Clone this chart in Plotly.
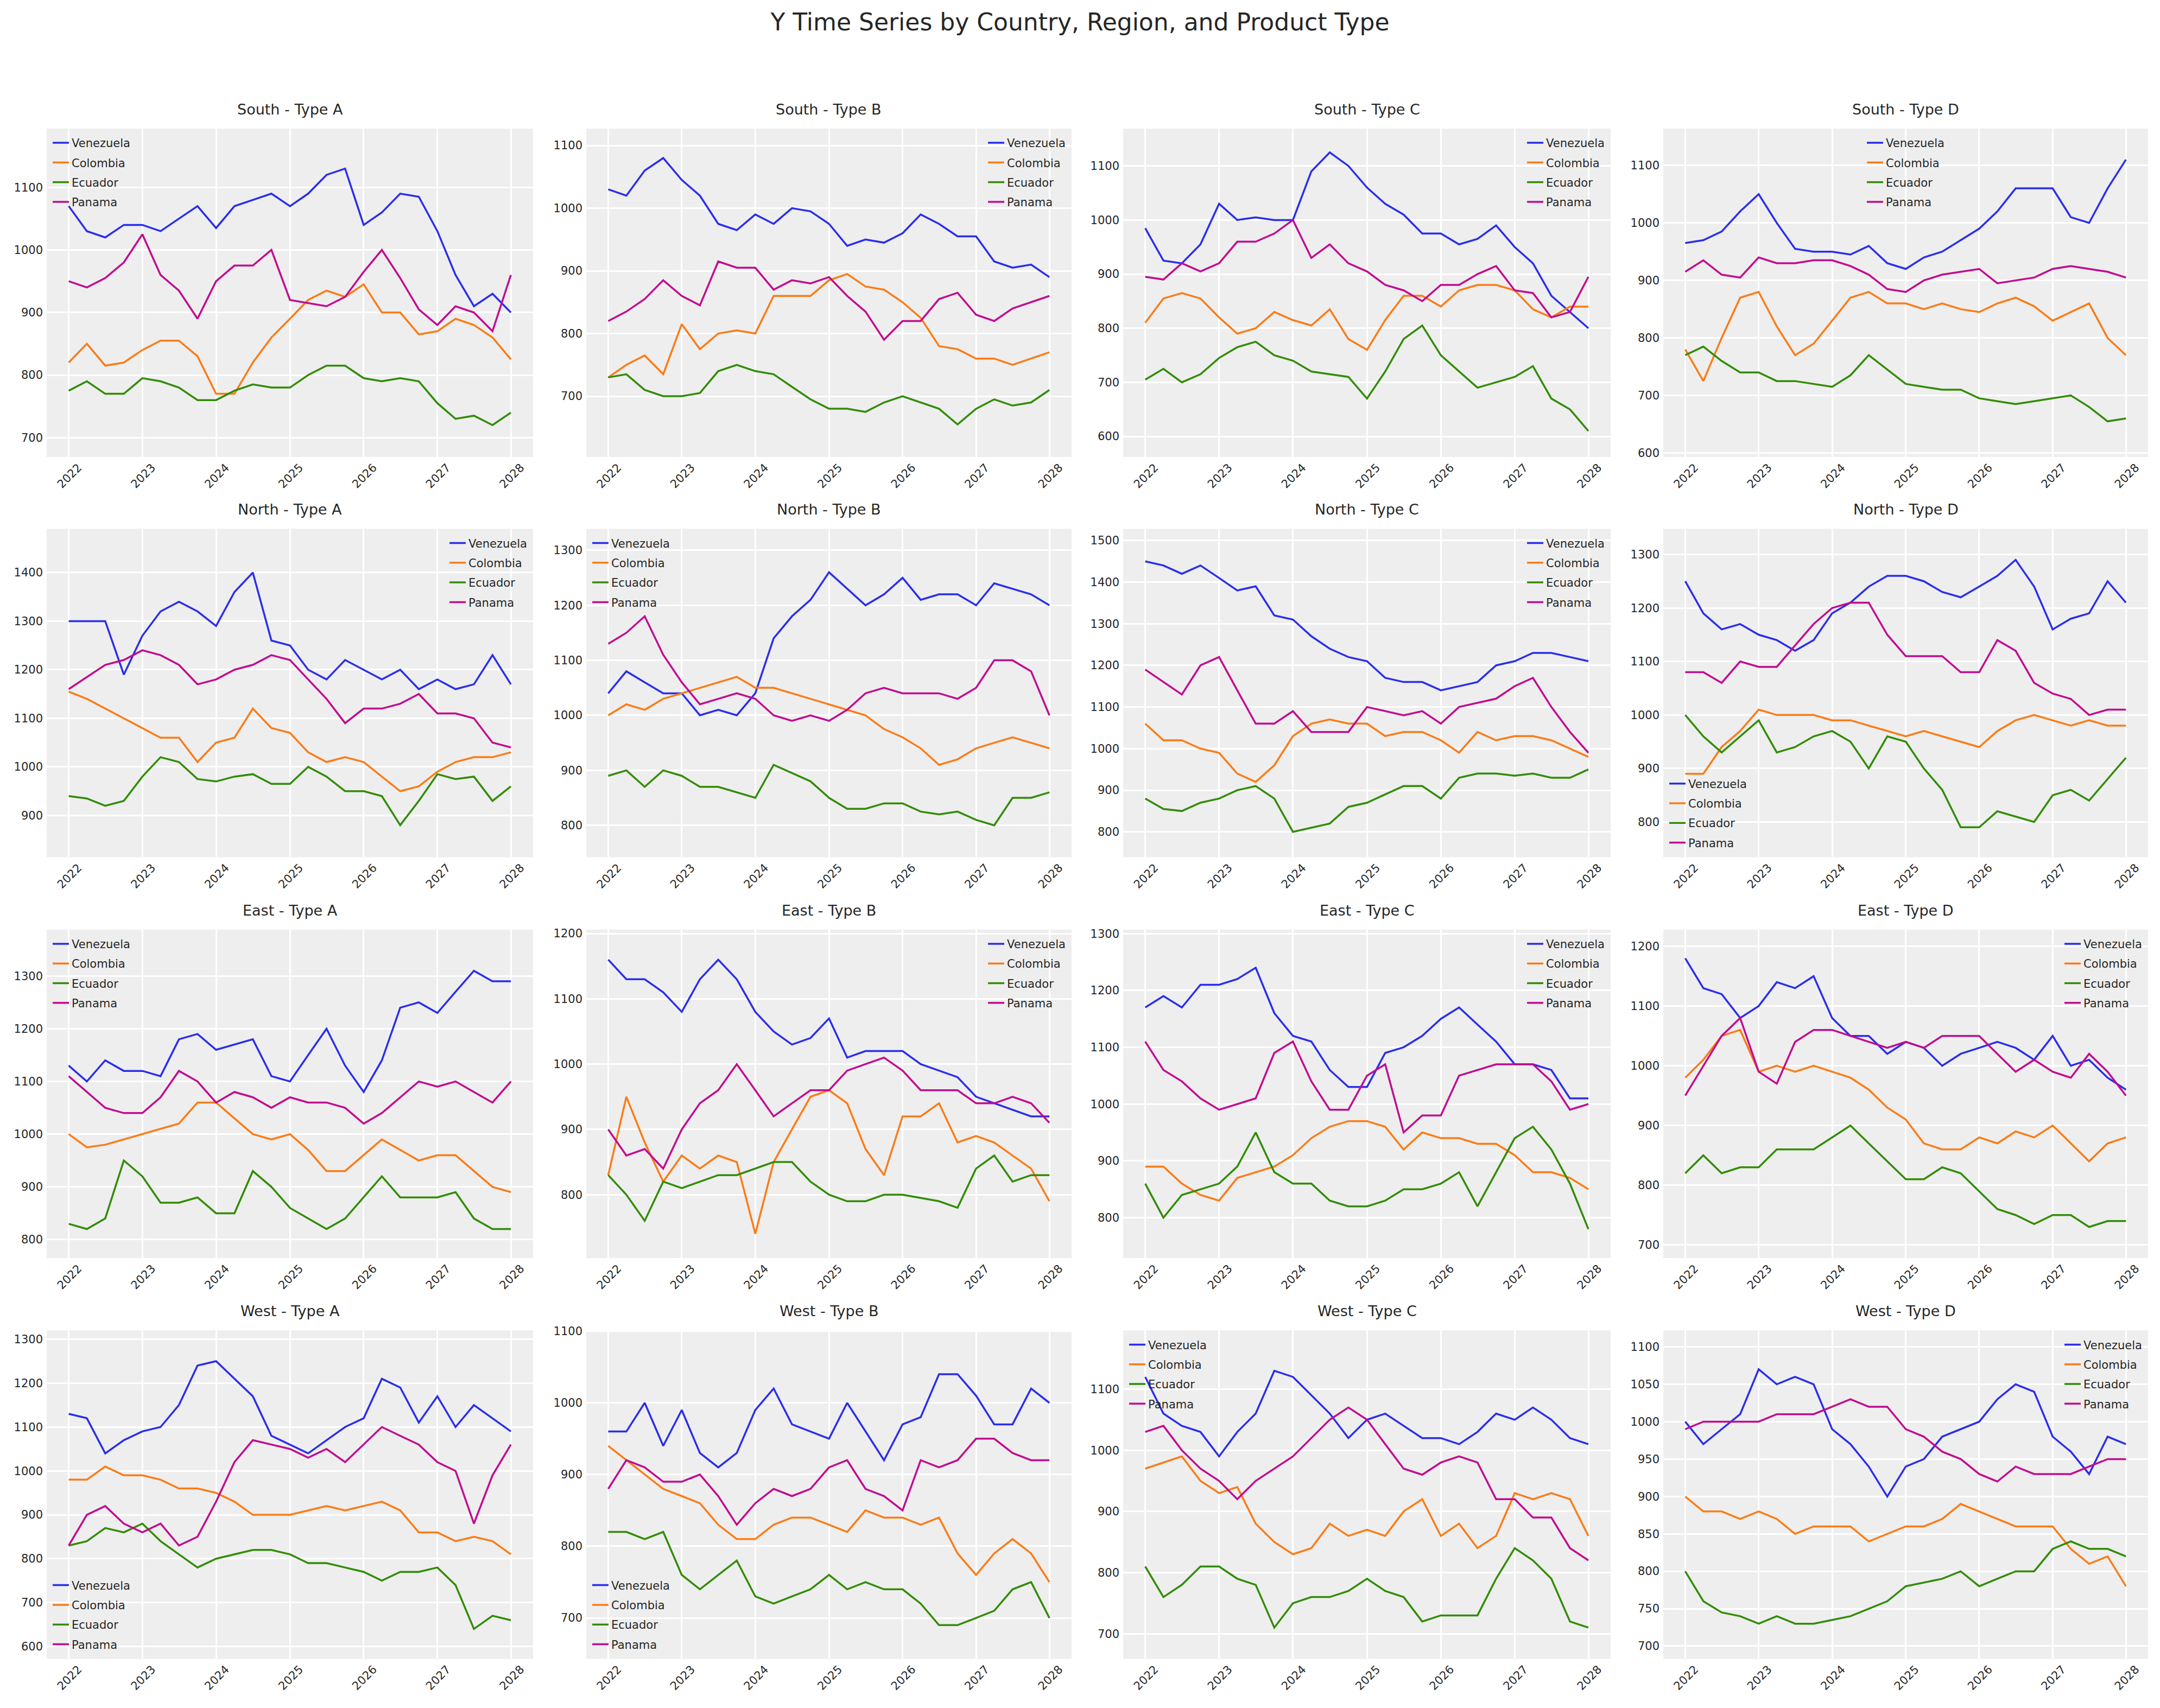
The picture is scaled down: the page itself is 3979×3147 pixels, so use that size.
import plotly.graph_objects as go

# ---------------- data (quarterly samples) ----------------
DATES = ["2022-01-01", "2022-04-01", "2022-07-01", "2022-10-01",
         "2023-01-01", "2023-04-01", "2023-07-01", "2023-10-01",
         "2024-01-01", "2024-04-01", "2024-07-01", "2024-10-01",
         "2025-01-01", "2025-04-01", "2025-07-01", "2025-10-01",
         "2026-01-01", "2026-04-01", "2026-07-01", "2026-10-01",
         "2027-01-01", "2027-04-01", "2027-07-01", "2027-10-01",
         "2027-12-31"]
COUNTRIES = ["Venezuela", "Colombia", "Ecuador", "Panama"]
REGIONS = ["South", "North", "East", "West"]
TYPES = ["Type A", "Type B", "Type C", "Type D"]
YEAR_TICKS = ["2022", "2023", "2024", "2025", "2026", "2027", "2028"]
TITLE = "Y Time Series by Country, Region, and Product Type"

S_A_VEN = [1070,1030,1020,1040,1040,1030,1050,1070,1035,1070,1080,1090,1070,1090,1120,1130,1040,1060,1090,1085,1030,960,910,930,900]
S_A_COL = [820,850,815,820,840,855,855,830,770,770,820,860,890,920,935,925,945,900,900,865,870,890,880,860,825]
S_A_ECU = [775,790,770,770,795,790,780,760,760,775,785,780,780,800,815,815,795,790,795,790,755,730,735,720,740]
S_A_PAN = [950,940,955,980,1025,960,935,890,950,975,975,1000,920,915,910,925,965,1000,955,905,880,910,900,870,960]

S_B_VEN = [1030,1020,1060,1080,1045,1020,975,965,990,975,1000,995,975,940,950,945,960,990,975,955,955,915,905,910,890]
S_B_COL = [730,750,765,735,815,775,800,805,800,860,860,860,885,895,875,870,850,825,780,775,760,760,750,760,770]
S_B_ECU = [730,735,710,700,700,705,740,750,740,735,715,695,680,680,675,690,700,690,680,655,680,695,685,690,710]
S_B_PAN = [820,835,855,885,860,845,915,905,905,870,885,880,890,860,835,790,820,820,855,865,830,820,840,850,860]

S_C_VEN = [985,925,920,955,1030,1000,1005,1000,1000,1090,1125,1100,1060,1030,1010,975,975,955,965,990,950,920,860,830,800]
S_C_COL = [810,855,865,855,820,790,800,830,815,805,835,780,760,815,860,860,840,870,880,880,870,835,820,840,840]
S_C_ECU = [705,725,700,715,745,765,775,750,740,720,715,710,670,720,780,805,750,720,690,700,710,730,670,650,610]
S_C_PAN = [895,890,920,905,920,960,960,975,1000,930,955,920,905,880,870,850,880,880,900,915,870,865,820,830,895]

S_D_VEN = [965,970,985,1020,1050,1000,955,950,950,945,960,930,920,940,950,970,990,1020,1060,1060,1060,1010,1000,1060,1110]
S_D_COL = [780,725,800,870,880,820,770,790,830,870,880,860,860,850,860,850,845,860,870,855,830,845,860,800,770]
S_D_ECU = [770,785,760,740,740,725,725,720,715,735,770,745,720,715,710,710,695,690,685,690,695,700,680,655,660]
S_D_PAN = [915,935,910,905,940,930,930,935,935,925,910,885,880,900,910,915,920,895,900,905,920,925,920,915,905]

N_A_VEN = [1300,1300,1300,1190,1270,1320,1340,1320,1290,1360,1400,1260,1250,1200,1180,1220,1200,1180,1200,1160,1180,1160,1170,1230,1170]
N_A_COL = [1155,1140,1120,1100,1080,1060,1060,1010,1050,1060,1120,1080,1070,1030,1010,1020,1010,980,950,960,990,1010,1020,1020,1030]
N_A_ECU = [940,935,920,930,980,1020,1010,975,970,980,985,965,965,1000,980,950,950,940,880,930,985,975,980,930,960]
N_A_PAN = [1160,1185,1210,1220,1240,1230,1210,1170,1180,1200,1210,1230,1220,1180,1140,1090,1120,1120,1130,1150,1110,1110,1100,1050,1040]

N_B_VEN = [1040,1080,1060,1040,1040,1000,1010,1000,1040,1140,1180,1210,1260,1230,1200,1220,1250,1210,1220,1220,1200,1240,1230,1220,1200]
N_B_COL = [1000,1020,1010,1030,1040,1050,1060,1070,1050,1050,1040,1030,1020,1010,1000,975,960,940,910,920,940,950,960,950,940]
N_B_ECU = [890,900,870,900,890,870,870,860,850,910,895,880,850,830,830,840,840,825,820,825,810,800,850,850,860]
N_B_PAN = [1130,1150,1180,1110,1060,1020,1030,1040,1030,1000,990,1000,990,1010,1040,1050,1040,1040,1040,1030,1050,1100,1100,1080,1000]

N_C_VEN = [1450,1440,1420,1440,1410,1380,1390,1320,1310,1270,1240,1220,1210,1170,1160,1160,1140,1150,1160,1200,1210,1230,1230,1220,1210]
N_C_COL = [1060,1020,1020,1000,990,940,920,960,1030,1060,1070,1060,1060,1030,1040,1040,1020,990,1040,1020,1030,1030,1020,1000,980]
N_C_ECU = [880,855,850,870,880,900,910,880,800,810,820,860,870,890,910,910,880,930,940,940,935,940,930,930,950]
N_C_PAN = [1190,1160,1130,1200,1220,1140,1060,1060,1090,1040,1040,1040,1100,1090,1080,1090,1060,1100,1110,1120,1150,1170,1100,1040,990]

N_D_VEN = [1250,1190,1160,1170,1150,1140,1120,1140,1190,1210,1240,1260,1260,1250,1230,1220,1240,1260,1290,1240,1160,1180,1190,1250,1210]
N_D_COL = [890,890,940,970,1010,1000,1000,1000,990,990,980,970,960,970,960,950,940,970,990,1000,990,980,990,980,980]
N_D_ECU = [1000,960,930,960,990,930,940,960,970,950,900,960,950,900,860,790,790,820,810,800,850,860,840,880,920]
N_D_PAN = [1080,1080,1060,1100,1090,1090,1130,1170,1200,1210,1210,1150,1110,1110,1110,1080,1080,1140,1120,1060,1040,1030,1000,1010,1010]

E_A_VEN = [1130,1100,1140,1120,1120,1110,1180,1190,1160,1170,1180,1110,1100,1150,1200,1130,1080,1140,1240,1250,1230,1270,1310,1290,1290]
E_A_COL = [1000,975,980,990,1000,1010,1020,1060,1060,1030,1000,990,1000,970,930,930,960,990,970,950,960,960,930,900,890]
E_A_ECU = [830,820,840,950,920,870,870,880,850,850,930,900,860,840,820,840,880,920,880,880,880,890,840,820,820]
E_A_PAN = [1110,1080,1050,1040,1040,1070,1120,1100,1060,1080,1070,1050,1070,1060,1060,1050,1020,1040,1070,1100,1090,1100,1080,1060,1100]

E_B_VEN = [1160,1130,1130,1110,1080,1130,1160,1130,1080,1050,1030,1040,1070,1010,1020,1020,1020,1000,990,980,950,940,930,920,920]
E_B_COL = [830,950,880,820,860,840,860,850,740,850,900,950,960,940,870,830,920,920,940,880,890,880,860,840,790]
E_B_ECU = [830,800,760,820,810,820,830,830,840,850,850,820,800,790,790,800,800,795,790,780,840,860,820,830,830]
E_B_PAN = [900,860,870,840,900,940,960,1000,960,920,940,960,960,990,1000,1010,990,960,960,960,940,940,950,940,910]

E_C_VEN = [1170,1190,1170,1210,1210,1220,1240,1160,1120,1110,1060,1030,1030,1090,1100,1120,1150,1170,1140,1110,1070,1070,1060,1010,1010]
E_C_COL = [890,890,860,840,830,870,880,890,910,940,960,970,970,960,920,950,940,940,930,930,910,880,880,870,850]
E_C_ECU = [860,800,840,850,860,890,950,880,860,860,830,820,820,830,850,850,860,880,820,880,940,960,920,860,780]
E_C_PAN = [1110,1060,1040,1010,990,1000,1010,1090,1110,1040,990,990,1050,1070,950,980,980,1050,1060,1070,1070,1070,1040,990,1000]

E_D_VEN = [1180,1130,1120,1080,1100,1140,1130,1150,1080,1050,1050,1020,1040,1030,1000,1020,1030,1040,1030,1010,1050,1000,1010,980,960]
E_D_COL = [980,1010,1050,1060,990,1000,990,1000,990,980,960,930,910,870,860,860,880,870,890,880,900,870,840,870,880]
E_D_ECU = [820,850,820,830,830,860,860,860,880,900,870,840,810,810,830,820,790,760,750,735,750,750,730,740,740]
E_D_PAN = [950,1000,1050,1080,990,970,1040,1060,1060,1050,1040,1030,1040,1030,1050,1050,1050,1020,990,1010,990,980,1020,990,950]

W_A_VEN = [1130,1120,1040,1070,1090,1100,1150,1240,1250,1210,1170,1080,1060,1040,1070,1100,1120,1210,1190,1110,1170,1100,1150,1120,1090]
W_A_COL = [980,980,1010,990,990,980,960,960,950,930,900,900,900,910,920,910,920,930,910,860,860,840,850,840,810]
W_A_ECU = [830,840,870,860,880,840,810,780,800,810,820,820,810,790,790,780,770,750,770,770,780,740,640,670,660]
W_A_PAN = [830,900,920,880,860,880,830,850,930,1020,1070,1060,1050,1030,1050,1020,1060,1100,1080,1060,1020,1000,880,990,1060]

W_B_VEN = [960,960,1000,940,990,930,910,930,990,1020,970,960,950,1000,960,920,970,980,1040,1040,1010,970,970,1020,1000]
W_B_COL = [940,920,900,880,870,860,830,810,810,830,840,840,830,820,850,840,840,830,840,790,760,790,810,790,750]
W_B_ECU = [820,820,810,820,760,740,760,780,730,720,730,740,760,740,750,740,740,720,690,690,700,710,740,750,700]
W_B_PAN = [880,920,910,890,890,900,870,830,860,880,870,880,910,920,880,870,850,920,910,920,950,950,930,920,920]

W_C_VEN = [1120,1060,1040,1030,990,1030,1060,1130,1120,1090,1060,1020,1050,1060,1040,1020,1020,1010,1030,1060,1050,1070,1050,1020,1010]
W_C_COL = [970,980,990,950,930,940,880,850,830,840,880,860,870,860,900,920,860,880,840,860,930,920,930,920,860]
W_C_ECU = [810,760,780,810,810,790,780,710,750,760,760,770,790,770,760,720,730,730,730,790,840,820,790,720,710]
W_C_PAN = [1030,1040,1000,970,950,920,950,970,990,1020,1050,1070,1050,1010,970,960,980,990,980,920,920,890,890,840,820]

W_D_VEN = [1000,970,990,1010,1070,1050,1060,1050,990,970,940,900,940,950,980,990,1000,1030,1050,1040,980,960,930,980,970]
W_D_COL = [900,880,880,870,880,870,850,860,860,860,840,850,860,860,870,890,880,870,860,860,860,830,810,820,780]
W_D_ECU = [800,760,745,740,730,740,730,730,735,740,750,760,780,785,790,800,780,790,800,800,830,840,830,830,820]
W_D_PAN = [990,1000,1000,1000,1000,1010,1010,1010,1020,1030,1020,1020,990,980,960,950,930,920,940,930,930,930,940,950,950]

# panels in reading order (row = region, column = product type)
PANEL_SERIES = [
    [S_A_VEN, S_A_COL, S_A_ECU, S_A_PAN], [S_B_VEN, S_B_COL, S_B_ECU, S_B_PAN],
    [S_C_VEN, S_C_COL, S_C_ECU, S_C_PAN], [S_D_VEN, S_D_COL, S_D_ECU, S_D_PAN],
    [N_A_VEN, N_A_COL, N_A_ECU, N_A_PAN], [N_B_VEN, N_B_COL, N_B_ECU, N_B_PAN],
    [N_C_VEN, N_C_COL, N_C_ECU, N_C_PAN], [N_D_VEN, N_D_COL, N_D_ECU, N_D_PAN],
    [E_A_VEN, E_A_COL, E_A_ECU, E_A_PAN], [E_B_VEN, E_B_COL, E_B_ECU, E_B_PAN],
    [E_C_VEN, E_C_COL, E_C_ECU, E_C_PAN], [E_D_VEN, E_D_COL, E_D_ECU, E_D_PAN],
    [W_A_VEN, W_A_COL, W_A_ECU, W_A_PAN], [W_B_VEN, W_B_COL, W_B_ECU, W_B_PAN],
    [W_C_VEN, W_C_COL, W_C_ECU, W_C_PAN], [W_D_VEN, W_D_COL, W_D_ECU, W_D_PAN],
]

# ---------------- style ----------------
W, H = 3979, 3147
FONT = "DejaVu Sans"
TEXT = "#262626"
BG = "#eeeeee"
COLORS = ["#2a2eec", "#fa7c17", "#328c06", "#c10c90"]
COL_PX = [(86, 982), (1080, 1974), (2069, 2967), (3064, 3957)]
ROW_PX = [(228, 836), (969, 1577), (1711, 2319), (2453, 3061)]
Y_RANGES = [
    (669, 1194), (603, 1127), (562, 1169), (593, 1164),
    (814, 1490), (742, 1339), (739, 1528), (734, 1348),
    (765, 1388), (703, 1206), (729, 1307), (678, 1228),
    (572, 1320), (643, 1101), (659, 1196), (683, 1122),
]
Y_DTICK = [100] * 15 + [50]
LEGEND_LOC = ["ul", "ur", "ur", "uc",
              "ur", "ul", "ur", "ll",
              "ul", "ur", "ur", "ur",
              "ll", "ll", "ul", "ur"]
X_RANGE = ["2021-09-14", "2028-04-19"]

fig = go.Figure()
layout = dict(
    width=W, height=H, autosize=False,
    margin=dict(l=0, r=0, t=0, b=0),
    paper_bgcolor="white", plot_bgcolor=BG,
    font=dict(family=FONT, color=TEXT, size=21),
    title=dict(text=TITLE, x=0.5, xanchor="center", y=1 - 41 / H, yanchor="middle",
               font=dict(family=FONT, size=44, color=TEXT)),
    annotations=[],
)

for i in range(16):
    r, c = divmod(i, 4)
    L, R = COL_PX[c]
    T, B = ROW_PX[r]
    n = "" if i == 0 else str(i + 1)
    xd = [L / W, R / W]
    yd = [1 - B / H, 1 - T / H]

    layout["xaxis" + n] = dict(
        domain=xd, anchor="y" + n, type="date", range=X_RANGE,
        tickmode="array",
        tickvals=[y + "-01-01" for y in YEAR_TICKS], ticktext=YEAR_TICKS,
        tickangle=-45, ticklabelshift=18, ticklabelstandoff=2,
        showgrid=True, gridcolor="white", gridwidth=2.5,
        zeroline=False, showline=False, ticks="",
        tickfont=dict(size=21, color=TEXT, family=FONT),
    )
    layout["yaxis" + n] = dict(
        domain=yd, anchor="x" + n, range=list(Y_RANGES[i]),
        dtick=Y_DTICK[i], tick0=0, showgrid=True, gridcolor="white", gridwidth=2.5,
        zeroline=False, showline=False, ticks="", ticklabelstandoff=6,
        tickfont=dict(size=21, color=TEXT, family=FONT),
    )
    layout["annotations"].append(dict(
        text=f"{REGIONS[r]} - {TYPES[c]}", xref="paper", yref="paper",
        x=(xd[0] + xd[1]) / 2, y=yd[1], xanchor="center", yanchor="bottom",
        yshift=18, showarrow=False, font=dict(size=27, color=TEXT, family=FONT),
    ))

    loc = LEGEND_LOC[i]
    if loc[0] == "u":
        ly, lya = 1 - (T + 6) / H, "top"
    else:
        ly, lya = 1 - (B - 6) / H, "bottom"
    if loc[1] == "l":
        lx, lxa = (L + 6) / W, "left"
    elif loc[1] == "r":
        lx, lxa = (R - 6) / W, "right"
    else:
        lx, lxa = (L + R) / 2 / W, "center"
    lname = "legend" + n
    layout[lname] = dict(
        x=lx, y=ly, xanchor=lxa, yanchor=lya, bgcolor="rgba(0,0,0,0)",
        borderwidth=0, font=dict(size=21, color=TEXT, family=FONT),
        tracegroupgap=6, itemwidth=30, traceorder="grouped",
    )

    for k, country in enumerate(COUNTRIES):
        fig.add_trace(go.Scatter(
            x=DATES, y=PANEL_SERIES[i][k], mode="lines", name=country,
            line=dict(color=COLORS[k], width=3.5),
            xaxis="x" + n, yaxis="y" + n, legend=lname,
            legendgroup=f"p{i}_{k}", showlegend=True,
        ))

fig.update_layout(**layout)
fig.write_html("out.html", config={"displayModeBar": False},
               post_script="document.body.style.margin='0';")
